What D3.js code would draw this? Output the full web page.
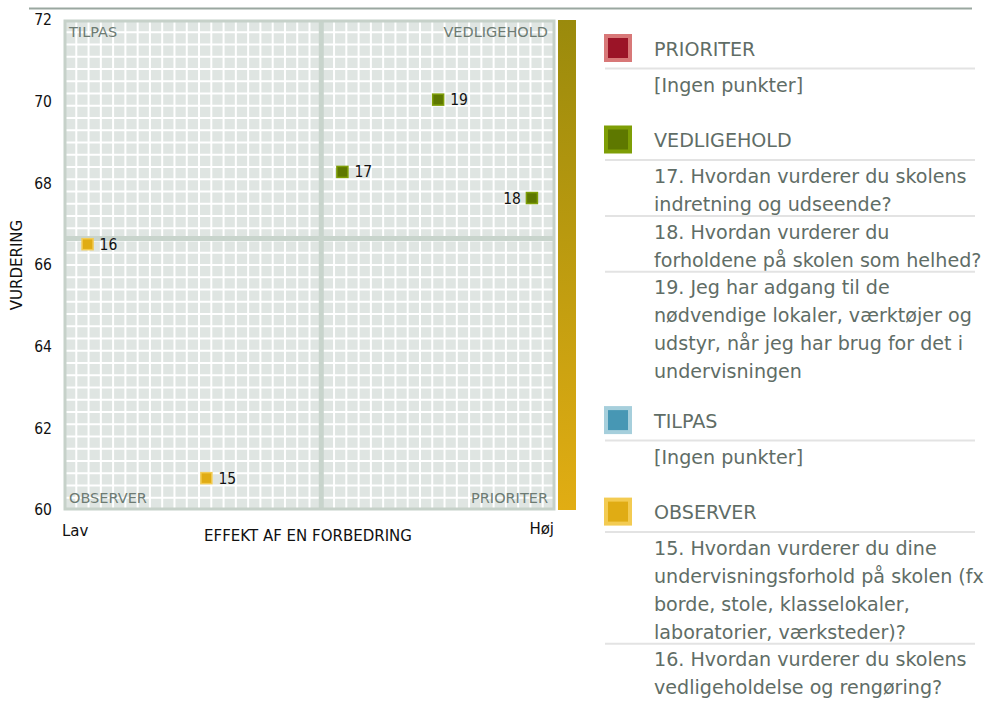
<!DOCTYPE html>
<html>
<head>
<meta charset="utf-8">
<script src="https://cdn.jsdelivr.net/npm/d3@7"></script>
<style>
  html, body { margin: 0; padding: 0; background: #fff; }
  svg { display: block; font-family: Tahoma, "DejaVu Sans", sans-serif; }
  .cond { font-family: Tahoma, "DejaVu Sans Condensed", "DejaVu Sans", sans-serif; }
</style>
</head>
<body>
<svg id="chart" width="987" height="702"></svg>
<script>
// ---------- data ----------
const pointIds      = [15, 16, 17, 18, 19];
const effectValues  = [29.0, 4.8, 56.7, 95.3, 76.2];       // x: effekt af en forbedring (Lav..Høj)
const ratingValues  = [60.78, 66.51, 68.28, 67.64, 70.05]; // y: vurdering
const pointGroups   = ["OBSERVER", "OBSERVER", "VEDLIGEHOLD", "VEDLIGEHOLD", "VEDLIGEHOLD"];
const labelSide     = ["right", "right", "right", "left", "right"];
const yTicks        = [60, 62, 64, 66, 68, 70, 72];
const quadrantNames = { tl: "TILPAS", tr: "VEDLIGEHOLD", bl: "OBSERVER", br: "PRIORITER" };
const xAxisTitle = "EFFEKT AF EN FORBEDRING";
const yAxisTitle = "VURDERING";
const xLow = "Lav", xHigh = "Høj";

const legendGroups = ["PRIORITER", "VEDLIGEHOLD", "TILPAS", "OBSERVER"];
const groupFill    = { PRIORITER: "#9b1427", VEDLIGEHOLD: "#5e7800", TILPAS: "#4797b4", OBSERVER: "#e0ac14" };
const groupBorder  = { PRIORITER: "#d87878", VEDLIGEHOLD: "#7e9e06", TILPAS: "#a6cfdc", OBSERVER: "#f3cb52" };
const emptyText = "[Ingen punkter]";
const questionLines = {
  15: ["15. Hvordan vurderer du dine", "undervisningsforhold på skolen (fx", "borde, stole, klasselokaler,", "laboratorier, værksteder)?"],
  16: ["16. Hvordan vurderer du skolens", "vedligeholdelse og rengøring?"],
  17: ["17. Hvordan vurderer du skolens", "indretning og udseende?"],
  18: ["18. Hvordan vurderer du", "forholdene på skolen som helhed?"],
  19: ["19. Jeg har adgang til de", "nødvendige lokaler, værktøjer og", "udstyr, når jeg har brug for det i", "undervisningen"]
};

// ---------- layout ----------
const svg = d3.select("#chart");
const plot = { left: 64, right: 555, top: 20, bottom: 510 };
const x = d3.scaleLinear().domain([0, 100]).range([plot.left, plot.right]);
const y = d3.scaleLinear().domain([60, 72]).range([plot.bottom, plot.top]);

// top rule
svg.append("line").attr("x1", 29).attr("x2", 972).attr("y1", 8.5).attr("y2", 8.5)
  .attr("stroke", "#9aa7a0").attr("stroke-width", 2);

// plot background
svg.append("rect").attr("x", plot.left).attr("y", plot.top)
  .attr("width", plot.right - plot.left).attr("height", plot.bottom - plot.top)
  .attr("fill", "#dfe5e2");

// fine grid (40 x 40 cells)
const gx = d3.scaleLinear().domain([0, 40]).range([plot.left, plot.right]);
const gy = d3.scaleLinear().domain([0, 40]).range([plot.top, plot.bottom]);
const grid = svg.append("g").attr("stroke", "#ffffff").attr("stroke-width", 2);
grid.selectAll("line.v").data(d3.range(1, 40)).join("line").attr("class", "v")
  .attr("x1", d => gx(d)).attr("x2", d => gx(d)).attr("y1", plot.top).attr("y2", plot.bottom);
grid.selectAll("line.h").data(d3.range(1, 40)).join("line").attr("class", "h")
  .attr("y1", d => gy(d)).attr("y2", d => gy(d)).attr("x1", plot.left).attr("x2", plot.right);

// quadrant dividers at the means
const meanX = d3.mean(effectValues), meanY = d3.mean(ratingValues);
svg.append("line").attr("x1", x(meanX)).attr("x2", x(meanX)).attr("y1", plot.top).attr("y2", plot.bottom)
  .attr("stroke", "#c8d4cc").attr("stroke-width", 5);
svg.append("line").attr("y1", y(meanY)).attr("y2", y(meanY)).attr("x1", plot.left).attr("x2", plot.right)
  .attr("stroke", "#c8d4cc").attr("stroke-width", 5);

// border
svg.append("rect").attr("x", plot.left + 1).attr("y", plot.top + 1)
  .attr("width", plot.right - plot.left - 2).attr("height", plot.bottom - plot.top - 2)
  .attr("fill", "none").attr("stroke", "#c6d1c9").attr("stroke-width", 3);

// gradient bar
const defs = svg.append("defs");
const grad = defs.append("linearGradient").attr("id", "bar").attr("x1", 0).attr("x2", 0).attr("y1", 0).attr("y2", 1);
grad.append("stop").attr("offset", "0%").attr("stop-color", "#9a8a0c");
grad.append("stop").attr("offset", "100%").attr("stop-color", "#e1ad13");
svg.append("rect").attr("x", 558).attr("y", plot.top).attr("width", 18).attr("height", plot.bottom - plot.top)
  .attr("fill", "url(#bar)");

// quadrant labels
const qStyle = s => s.attr("fill", "#6d7b73").attr("font-size", 14.5);
svg.append("text").attr("x", plot.left + 5).attr("y", plot.top + 17).text(quadrantNames.tl).call(qStyle);
svg.append("text").attr("x", plot.right - 7).attr("y", plot.top + 17).attr("text-anchor", "end").text(quadrantNames.tr).call(qStyle);
svg.append("text").attr("x", plot.left + 5).attr("y", plot.bottom - 7).text(quadrantNames.bl).call(qStyle);
svg.append("text").attr("x", plot.right - 7).attr("y", plot.bottom - 7).attr("text-anchor", "end").text(quadrantNames.br).call(qStyle);

// y axis
const yAxis = d3.axisLeft(y).tickValues(yTicks).tickSize(0).tickPadding(12).tickFormat(d3.format("d"));
const yg = svg.append("g").attr("transform", `translate(${plot.left},0)`).call(yAxis);
yg.select(".domain").remove();
yg.selectAll("text").attr("class", "cond").attr("font-size", 15.5).attr("fill", "#111").attr("font-family", null);

svg.append("text").attr("transform", `translate(22,${(plot.top + plot.bottom) / 2}) rotate(-90)`)
  .attr("text-anchor", "middle").attr("font-size", 15).attr("fill", "#111").text(yAxisTitle);
svg.append("text").attr("x", 308).attr("y", 541).attr("text-anchor", "middle")
  .attr("font-size", 15).attr("fill", "#111").text(xAxisTitle);
svg.append("text").attr("x", x(0) - 2).attr("y", 536).attr("font-size", 15).attr("fill", "#111").text(xLow);
svg.append("text").attr("x", x(100) - 1).attr("y", 534).attr("text-anchor", "end").attr("font-size", 15).attr("fill", "#111").text(xHigh);

// points
const pts = pointIds.map((id, i) => ({ id, x: effectValues[i], y: ratingValues[i], g: pointGroups[i], side: labelSide[i] }));
const pg = svg.append("g").selectAll("g").data(pts).join("g")
  .attr("transform", d => `translate(${x(d.x)},${y(d.y)})`);
pg.append("rect").attr("x", -5.5).attr("y", -5.5).attr("width", 11).attr("height", 11)
  .attr("fill", d => groupFill[d.g]).attr("stroke", d => groupBorder[d.g]).attr("stroke-width", 1.5);
pg.append("text").attr("class", "cond").attr("x", d => d.side === "right" ? 12 : -11).attr("y", 5.5)
  .attr("text-anchor", d => d.side === "right" ? "start" : "end")
  .attr("font-size", 15.5).attr("fill", "#111").text(d => d.id);

// legend
const L = { icon: 604, text: 654, sepX1: 605, sepX2: 975, pitch: 27.8, fs: 19.1 };
let cursor = 34;
const lg = svg.append("g").attr("fill", "#5f6d66");
legendGroups.forEach(name => {
  const items = pts.filter(p => p.g === name).sort((a, b) => a.id - b.id);
  lg.append("rect").attr("x", L.icon + 2).attr("y", cursor + 2).attr("width", 24).attr("height", 24)
    .attr("fill", groupFill[name]).attr("stroke", groupBorder[name]).attr("stroke-width", 4);
  lg.append("text").attr("x", L.text).attr("y", cursor + 15).attr("dy", "0.35em")
    .attr("font-size", L.fs).text(name);
  lg.append("line").attr("x1", L.sepX1).attr("x2", L.sepX2).attr("y1", cursor + 34.5).attr("y2", cursor + 34.5)
    .attr("stroke", "#e3e3e3").attr("stroke-width", 2);
  let lineY = cursor + 51;
  if (items.length === 0) {
    lg.append("text").attr("x", L.text).attr("y", lineY).attr("dy", "0.35em").attr("font-size", L.fs).text(emptyText);
    cursor = lineY + 40.5;
  } else {
    items.forEach((it, k) => {
      if (k > 0) {
        const sy = lineY - 16;
        lg.append("line").attr("x1", L.sepX1).attr("x2", L.sepX2).attr("y1", sy).attr("y2", sy)
          .attr("stroke", "#e3e3e3").attr("stroke-width", 2);
      }
      questionLines[it.id].forEach((t, j) => {
        lg.append("text").attr("x", L.text).attr("y", lineY).attr("dy", "0.35em").attr("font-size", L.fs).text(t);
        if (j < questionLines[it.id].length - 1) lineY += L.pitch;
      });
      lineY += L.pitch;
    });
    cursor = lineY - L.pitch + 35;
  }
});
</script>
</body>
</html>
